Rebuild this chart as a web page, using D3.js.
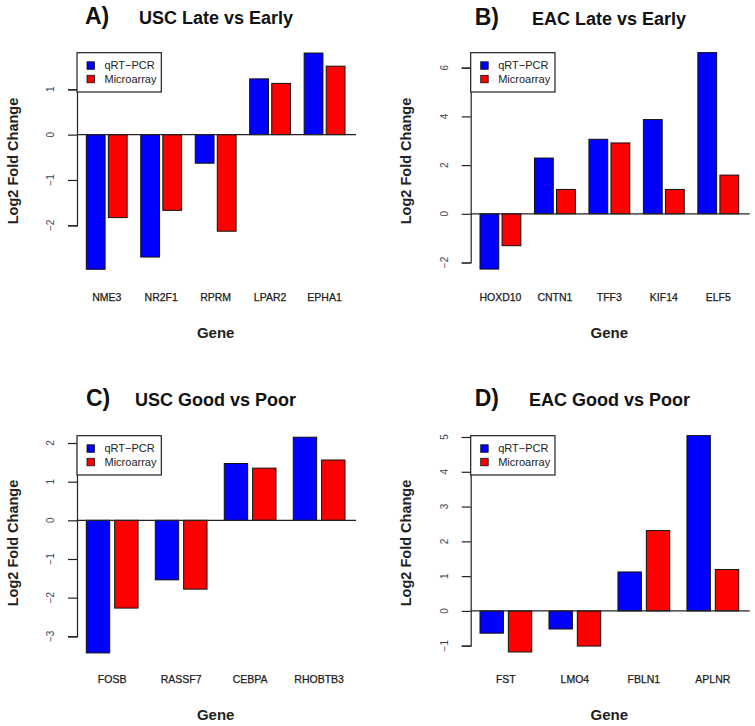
<!DOCTYPE html>
<html>
<head>
<meta charset="utf-8">
<script src="https://cdn.jsdelivr.net/npm/d3@7"></script>
<style>
  html, body { margin: 0; padding: 0; background: #fff; }
  svg { display: block; font-family: "Liberation Sans", Arial, Helvetica, sans-serif; }
</style>
</head>
<body>
<svg id="chart" width="755" height="726"></svg>
<script>
// ---- Data ----
const seriesNames = ["qRT-PCR", "Microarray"];
const seriesColors = ["#0000ff", "#ff0000"];

const genesA = ["NME3", "NR2F1", "RPRM", "LPAR2", "EPHA1"];
const qpcrA  = [-2.97, -2.70, -0.63, 1.23, 1.80];
const microA = [-1.83, -1.67, -2.13, 1.13, 1.51];
const ticksA = [-2, -1, 0, 1];

const genesB = ["HOXD10", "CNTN1", "TFF3", "KIF14", "ELF5"];
const qpcrB  = [-2.27, 2.29, 3.06, 3.87, 6.62];
const microB = [-1.31, 1.00, 2.91, 1.00, 1.59];
const ticksB = [-2, 0, 2, 4, 6];

const genesC = ["FOSB", "RASSF7", "CEBPA", "RHOBTB3"];
const qpcrC  = [-3.43, -1.54, 1.47, 2.15];
const microC = [-2.27, -1.78, 1.35, 1.56];
const ticksC = [-3, -2, -1, 0, 1, 2];

const genesD = ["FST", "LMO4", "FBLN1", "APLNR"];
const qpcrD  = [-0.64, -0.52, 1.12, 5.04];
const microD = [-1.18, -1.01, 2.31, 1.19];
const ticksD = [-1, 0, 1, 2, 3, 4, 5];

const panelLetters = ["A)", "B)", "C)", "D)"];
const panelTitles = ["USC Late vs Early", "EAC Late vs Early", "USC Good vs Poor", "EAC Good vs Poor"];
const xTitle = "Gene";
const yTitle = "Log2 Fold Change";

// ---- Layout (pixels) ----
const svg = d3.select("#chart");

const panels = [
  { letter: panelLetters[0], title: panelTitles[0], genes: genesA, s: [qpcrA, microA], ticks: ticksA,
    ax: 77, right: 356, yr: [225.3, 89.3], titleX: 216, letterX: 85, base: 23.5,
    geneY: 300.5, xTitleY: 338, yTitleX: 17.5, yTitleY: 161, legY: 52.7, inner: 0.148 },
  { letter: panelLetters[1], title: panelTitles[1], genes: genesB, s: [qpcrB, microB], ticks: ticksB,
    ax: 470.7, right: 749.7, yr: [262.5, 67.7], titleX: 609, letterX: 474.7, base: 24.5,
    geneY: 300.5, xTitleY: 338, yTitleX: 411, yTitleY: 161, legY: 52.7, inner: 0.148 },
  { letter: panelLetters[2], title: panelTitles[2], genes: genesC, s: [qpcrC, microC], ticks: ticksC,
    ax: 77, right: 356, yr: [636.3, 443], titleX: 215.5, letterX: 86, base: 406,
    geneY: 682.8, xTitleY: 720, yTitleX: 17.5, yTitleY: 543, legY: 435.7, inner: 0.175 },
  { letter: panelLetters[3], title: panelTitles[3], genes: genesD, s: [qpcrD, microD], ticks: ticksD,
    ax: 470.7, right: 749.7, yr: [645.7, 437], titleX: 609.5, letterX: 474.7, base: 406.3,
    geneY: 682.8, xTitleY: 720, yTitleX: 411, yTitleY: 543, legY: 435.7, inner: 0.175 }
];

panels.forEach(p => {
  const g = svg.append("g");
  const tMin = d3.min(p.ticks), tMax = d3.max(p.ticks);
  const y = d3.scaleLinear().domain([tMin, tMax]).range(p.yr);

  const x0 = d3.scaleBand().domain(p.genes)
    .range([p.ax + 9.3, p.ax + 268]).paddingInner(0.25).paddingOuter(0);
  const x1 = d3.scaleBand().domain(seriesNames)
    .range([0, x0.bandwidth()]).paddingInner(p.inner).paddingOuter(0);

  // bars
  p.genes.forEach((gene, i) => {
    seriesNames.forEach((sn, j) => {
      const v = p.s[j][i];
      g.append("rect")
        .attr("x", x0(gene) + x1(sn))
        .attr("width", x1.bandwidth())
        .attr("y", Math.min(y(v), y(0)))
        .attr("height", Math.abs(y(v) - y(0)))
        .attr("fill", seriesColors[j])
        .attr("stroke", "#111")
        .attr("stroke-width", 1);
    });
  });

  // zero line
  g.append("line")
    .attr("x1", p.ax).attr("x2", p.right)
    .attr("y1", y(0)).attr("y2", y(0))
    .attr("stroke", "#222").attr("stroke-width", 1.2);

  // y axis
  const axis = d3.axisLeft(y).tickValues(p.ticks).tickSize(9).tickPadding(0).tickFormat(d3.format("d"));
  const ag = g.append("g").attr("transform", `translate(${p.ax},0)`).call(axis);
  ag.select(".domain").attr("stroke", "#222").attr("stroke-width", 1.2);
  ag.selectAll(".tick line").attr("stroke", "#222").attr("stroke-width", 1.2);
  ag.selectAll(".tick text").remove();
  p.ticks.forEach(t => {
    g.append("text")
      .attr("transform", `translate(${p.ax - 23},${y(t)}) rotate(-90)`)
      .attr("text-anchor", "middle")
      .attr("font-size", 10)
      .attr("fill", "#445")
      .text(d3.format("d")(t).replace("-", "\u2212"));
  });

  // gene labels
  p.genes.forEach(gene => {
    g.append("text")
      .attr("x", x0(gene) + x0.bandwidth() / 2)
      .attr("y", p.geneY)
      .attr("text-anchor", "middle")
      .attr("font-size", 10.5)
      .attr("fill", "#1a1a1a")
      .attr("stroke", "#1a1a1a").attr("stroke-width", 0.25)
      .text(gene);
  });

  // axis titles
  g.append("text")
    .attr("x", x0.range()[0] + (x0.range()[1] - x0.range()[0]) / 2)
    .attr("y", p.xTitleY)
    .attr("text-anchor", "middle")
    .attr("font-size", 15).attr("font-weight", "bold").attr("fill", "#222")
    .text(xTitle);

  g.append("text")
    .attr("transform", `translate(${p.yTitleX},${p.yTitleY}) rotate(-90)`)
    .attr("text-anchor", "middle")
    .attr("font-size", 14.5).attr("font-weight", "bold").attr("fill", "#222")
    .text(yTitle);

  // titles
  g.append("text")
    .attr("x", p.letterX).attr("y", p.base)
    .attr("font-size", 23).attr("font-weight", "bold").attr("fill", "#111")
    .text(p.letter);
  g.append("text")
    .attr("x", p.titleX).attr("y", p.base)
    .attr("text-anchor", "middle")
    .attr("font-size", 18).attr("font-weight", "bold").attr("fill", "#111")
    .text(p.title);

  // legend
  const lg = g.append("g").attr("transform", `translate(${p.ax},${p.legY})`);
  lg.append("rect").attr("x", 0).attr("y", 0).attr("width", 84.3).attr("height", 39.3)
    .attr("fill", "#fff").attr("stroke", "#222").attr("stroke-width", 1.2);
  seriesNames.forEach((sn, j) => {
    const cy = 12.8 + j * 13.5;
    lg.append("rect").attr("x", 10).attr("y", cy - 3.7).attr("width", 7.5).attr("height", 7.5)
      .attr("fill", seriesColors[j]).attr("stroke", "#111").attr("stroke-width", 0.8);
    lg.append("text").attr("x", 27.5).attr("y", cy).attr("dy", "0.35em")
      .attr("font-size", 11).attr("fill", "#222").text(sn.replace("-", "\u2212"));
  });
});
</script>
</body>
</html>
